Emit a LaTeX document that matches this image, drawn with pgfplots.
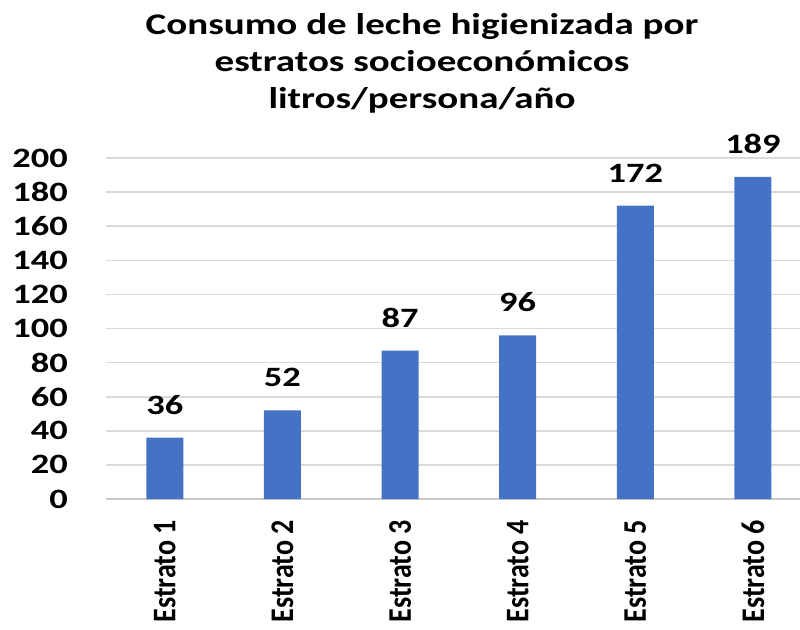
\documentclass[border=0pt]{standalone}
\usepackage{fontspec}
\usepackage{pgfplots}
\pgfplotsset{compat=1.18}
\newfontfamily\tfont{Carlito}[FakeStretch=1.3]
\newfontfamily\xfont{Carlito}[FakeStretch=0.85]
\definecolor{barblue}{HTML}{4472C4}
\definecolor{gridgray}{HTML}{D9D9D9}
\definecolor{basegray}{HTML}{C8C8C8}

\begin{document}
\begin{tikzpicture}
% frame of the picture, same size and offsets as the reference
\useasboundingbox (-106pt,-130pt) rectangle (694pt,499pt);
\begin{axis}[
    at={(0pt,0pt)}, anchor=south west,
    scale only axis,
    width=694pt, height=341pt,
    ybar, bar width=37pt,
    xmin=-0.5, xmax=5.4,
    ymin=0, ymax=200,
    xtick=data,
    xticklabels={Estrato 1,Estrato 2,Estrato 3,Estrato 4,Estrato 5,Estrato 6},
    ytick={0,20,...,200},
    major tick length=0pt,
    axis line style={draw=none},
    ymajorgrids,
    grid style={draw=gridgray, line width=1.6pt},
    extra y ticks={0},
    extra y tick labels={},
    extra y tick style={grid style={draw=basegray, line width=2.2pt}},
    /pgf/number format/assume math mode=true,
    yticklabel style={font=\tfont\bfseries\fontsize{28}{28}\selectfont, anchor=east, inner sep=0pt, text=black},
    yticklabel shift=38pt,
    xticklabel style={font=\xfont\bfseries\fontsize{33}{33}\selectfont, rotate=90, anchor=east, inner sep=0pt, text=black},
    xticklabel shift=21pt,
    nodes near coords,
    every node near coord/.append style={font=\tfont\bfseries\fontsize{28}{28}\selectfont, anchor=south, inner sep=0pt, yshift=23pt, text=black},
    title={Consumo de leche higienizada por\\estratos socioeconómicos\\litros/persona/año},
    title style={font=\tfont\bfseries\fontsize{30}{37}\selectfont, align=center, at={(0.5,1)}, anchor=north, inner sep=0pt, yshift=139pt, xshift=-31pt, text=black},
]
\addplot[fill=barblue, draw=none] coordinates {(0,36) (1,52) (2,87) (3,96) (4,172) (5,189)};
\end{axis}
\end{tikzpicture}
\end{document}
